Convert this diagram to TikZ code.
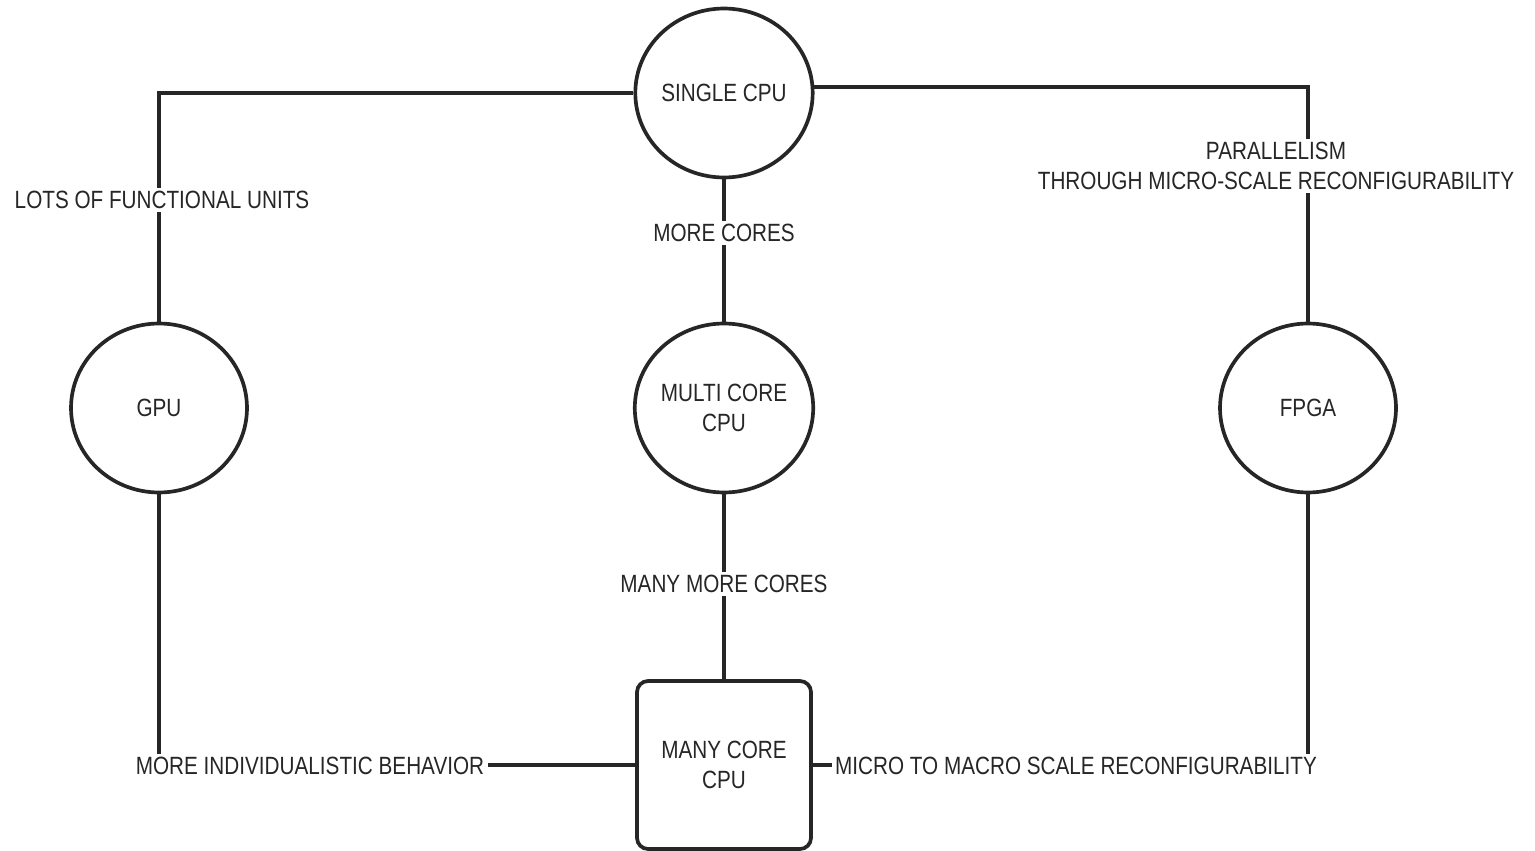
\documentclass[tikz,border=0pt]{standalone}
\usepackage{fontspec}
\setmainfont{Liberation Sans}[FakeStretch=0.83]
\usetikzlibrary{shapes.geometric}
\begin{document}
\begin{tikzpicture}[x=0.02cm,y=-0.02cm,
  every node/.style={font=\fontsize{14.2pt}{17pt}\selectfont, text=black!85},
  ell/.style={ellipse, draw=black!85, line width=2.1pt, minimum width=3.52cm, minimum height=3.38cm, inner sep=0pt, align=center},
  box/.style={rectangle, rounded corners=0.22cm, draw=black!85, line width=2.1pt, minimum width=3.48cm, minimum height=3.36cm, inner sep=0pt, align=center},
  lbl/.style={fill=white, inner sep=2pt, align=center},
  conn/.style={draw=black!85, line width=2.1pt}]
\useasboundingbox (0,0) rectangle (1535,851);
\fill[white] (0,0) rectangle (1535,851);
\node[ell] (S) at (724,93) {SINGLE CPU};
\node[ell] (G) at (159,408) {GPU};
\node[ell] (M) at (724,408) {MULTI CORE\\CPU};
\node[ell] (F) at (1308,408) {FPGA};
\node[box] (K) at (724,765) {MANY CORE\\CPU};
% connectors
\draw[conn] (S.west) -| (G.north);
\draw[conn] (S.4) -| (F.north);
\draw[conn] (S.south) -- (M.north);
\draw[conn] (M.south) -- (K.north);
\draw[conn] (G.south) |- (K.west);
\draw[conn] (F.south) |- (K.east);
% labels
\node[lbl] (l1) at (162,200) {LOTS OF FUNCTIONAL UNITS};
\node[lbl] (l2) at (1276,166) {PARALLELISM\\THROUGH MICRO-SCALE RECONFIGURABILITY};
\node[lbl] (l3) at (724,233) {MORE CORES};
\node[lbl] (l4) at (724,584) {MANY MORE CORES};
\node[lbl] (l5) at (310,766) {MORE INDIVIDUALISTIC BEHAVIOR};
\node[lbl] (l6) at (1076,766) {MICRO TO MACRO SCALE RECONFIGURABILITY};
\end{tikzpicture}
\end{document}
